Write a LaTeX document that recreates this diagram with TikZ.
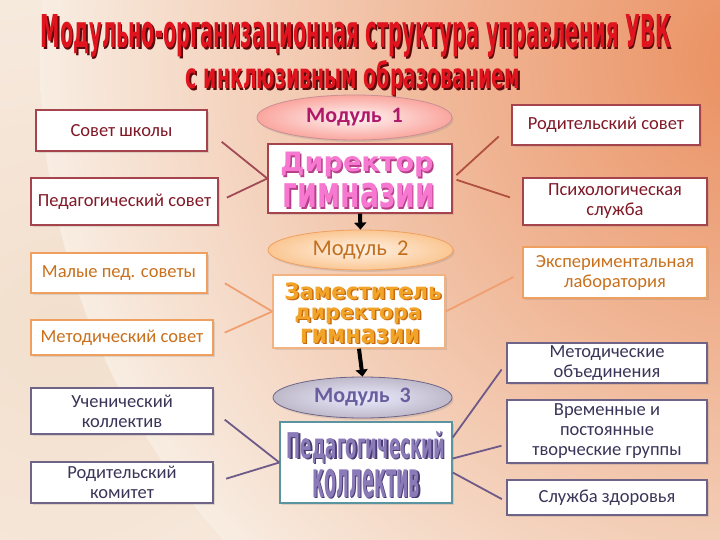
\documentclass[tikz,border=0pt]{standalone}
\usepackage{fontspec}
\setmainfont{Carlito}
\newfontfamily\heavyfont{DejaVu Sans}
\usetikzlibrary{shapes.geometric,arrows.meta,shadows}
\definecolor{bgbase}{HTML}{F8EDE2}
\definecolor{bgorange}{HTML}{EA8E5E}
\definecolor{bgpeach}{HTML}{F0D6C0}
\definecolor{redborder}{HTML}{A5444C}
\definecolor{redtext}{HTML}{801826}
\definecolor{orborder}{HTML}{EFA060}
\definecolor{ortext}{HTML}{C8701C}
\definecolor{puborder}{HTML}{6F6488}
\definecolor{putext}{HTML}{3A3558}
\definecolor{lred}{HTML}{A04A55}
\definecolor{rred}{HTML}{B05040}
\definecolor{lorange}{HTML}{F0A070}
\definecolor{lpurple}{HTML}{6E5A88}
\definecolor{titlered}{HTML}{E0141E}
\definecolor{titleshadow}{HTML}{5A0A0A}
\definecolor{dirpink}{HTML}{F678D0}
\definecolor{dirshadow}{HTML}{B8408A}
\definecolor{zamorange}{HTML}{F2A428}
\definecolor{zamshadow}{HTML}{C86A10}
\definecolor{pedpurple}{HTML}{8A7AB8}
\definecolor{pedshadow}{HTML}{4A3C72}
\definecolor{modonetext}{HTML}{B0186A}
\definecolor{modtwotext}{HTML}{C07020}
\definecolor{modthreetext}{HTML}{6A5E9E}
\newcommand\layered[3]{\rlap{\kern1.5pt\raisebox{-1.5pt}{\textcolor{#1}{#3}}}\textcolor{#2}{#3}}
\begin{document}
\begin{tikzpicture}[x=1pt,y=-1pt,
  box/.style={rectangle, draw, line width=1.4pt, fill=white, inner sep=0pt, align=center,
    font=\fontsize{18.5}{20}\selectfont,
    drop shadow={shadow xshift=1.5pt,shadow yshift=-2pt,opacity=0.22}},
  redbox/.style={box, draw=redborder, text=redtext},
  orbox/.style={box, draw=orborder, text=ortext},
  pubox/.style={box, draw=puborder, text=putext},
  modell/.style={ellipse, draw=#1, line width=0.8pt, inner sep=0pt,
    drop shadow={shadow xshift=1.5pt,shadow yshift=-2pt,opacity=0.22}},
  bigarrow/.style={line width=4pt, black, -{Triangle[width=12pt,length=7pt]}},
  conn/.style={line width=1.8pt},
  textnode/.style={inner sep=0pt, anchor=base}
]
% background
\fill[bgbase] (0,0) rectangle (720,540);
\begin{scope}
  \clip (0,0) rectangle (720,540);
  \shade[inner color=bgpeach, outer color=bgbase, opacity=0.6] (60,330) circle (420);
  \shade[inner color=bgorange, outer color=bgbase] (760,60) circle (720);
\end{scope}
\useasboundingbox (0,0) rectangle (720,540);

% title
\node[textnode] (title1) at (356,48) {\layered{titleshadow}{titlered}{\resizebox{630pt}{33pt}{\heavyfont\bfseries Модульно-организационная структура управления УВК}}};
\node[textnode] (title2) at (353,89) {\layered{titleshadow}{titlered}{\resizebox{334pt}{28pt}{\heavyfont\bfseries с инклюзивным образованием}}};

% left boxes
\node[redbox, minimum width=171pt, minimum height=41pt] (sovet) at (121.5,130.5) {Совет школы};
\node[redbox, minimum width=187pt, minimum height=47pt] (pedsovet) at (124.5,201.5) {Педагогический совет};
\node[orbox, minimum width=176pt, minimum height=40pt] (malye) at (119,273) {Малые пед. советы};
\node[orbox, minimum width=182pt, minimum height=35pt] (metsovet) at (122,337.5) {Методический совет};
\node[pubox, minimum width=182pt, minimum height=46pt] (uchen) at (122,411) {Ученический\\коллектив};
\node[pubox, minimum width=182pt, minimum height=41pt] (rodkom) at (122,482.5) {Родительский\\комитет};

% center modules
\node[modell=redborder!60, minimum width=195pt, minimum height=45pt, shade, inner color=white!85!pink, outer color=red!30!bgbase,
  text=modonetext, font=\bfseries\fontsize{22}{24}\selectfont] (mod1) at (354.5,117.5) {Модуль\ \ 1};
\node[redbox, draw=redborder, minimum width=184pt, minimum height=69pt] (dir) at (360,178.5) {};
\node[textnode] (dirt1) at (357,172) {\layered{dirshadow}{dirpink}{\resizebox*{153pt}{25pt}{\heavyfont\bfseries Директор}}};
\node[textnode] (dirt2) at (359,208) {\layered{dirshadow}{dirpink}{\resizebox*{152pt}{25pt}{\heavyfont\bfseries гимназии}}};

\node[modell=orborder, minimum width=185pt, minimum height=40pt, shade, inner color=white!90!orange, outer color=orange!35!bgbase,
  text=modtwotext, font=\fontsize{22.5}{24}\selectfont] (mod2) at (360.5,250) {Модуль\ \ 2};
\node[orbox, draw=orborder!80, minimum width=172pt, minimum height=73pt] (zam) at (359,311.5) {};
\node[textnode] (zamt1) at (363,299) {\layered{zamshadow}{zamorange}{\resizebox*{157pt}{17pt}{\heavyfont\bfseries Заместитель}}};
\node[textnode] (zamt2) at (358,319) {\layered{zamshadow}{zamorange}{\resizebox*{127pt}{16pt}{\heavyfont\bfseries директора}}};
\node[textnode] (zamt3) at (360,343) {\layered{zamshadow}{zamorange}{\resizebox*{120pt}{15pt}{\heavyfont\bfseries гимназии}}};

\node[modell=puborder, minimum width=179pt, minimum height=41pt, shade, inner color=white!92!blue, outer color=puborder!45!white,
  text=modthreetext, font=\bfseries\fontsize{22}{24}\selectfont] (mod3) at (362.5,397.5) {Модуль\ \ 3};
\node[pubox, draw=puborder!60!cyan!60!gray, minimum width=172pt, minimum height=81pt] (ped) at (366,462.5) {};
\node[textnode] (pedt1) at (366,458) {\layered{pedshadow}{pedpurple}{\resizebox*{158pt}{32pt}{\heavyfont\bfseries Педагогический}}};
\node[textnode] (pedt2) at (366,497) {\layered{pedshadow}{pedpurple}{\resizebox*{108pt}{29pt}{\heavyfont\bfseries коллектив}}};

% right boxes
\node[redbox, minimum width=188pt, minimum height=40pt] (rodsovet) at (606,125) {Родительский совет};
\node[redbox, minimum width=184pt, minimum height=47pt] (psych) at (615,201.5) {Психологическая\\служба};
\node[orbox, minimum width=184pt, minimum height=51pt] (exp) at (615,272.5) {Экспериментальная\\лаборатория};
\node[pubox, minimum width=200pt, minimum height=40pt] (mo) at (607,363) {Методические\\объединения};
\node[pubox, minimum width=200pt, minimum height=63pt] (vr) at (607,431.5) {Временные и\\постоянные\\творческие группы};
\node[pubox, minimum width=200pt, minimum height=35pt] (health) at (607,497.5) {Служба здоровья};

% arrows
\draw[bigarrow] (dir.south) -- (mod2.north);
\draw[bigarrow] (zam.south) -- (mod3.north);

% left connectors
\draw[conn, lred, shorten <=18pt] (sovet.east) -- (dir.west);
\draw[conn, lred, shorten <=9pt] (pedsovet.east) -- (dir.west);
\draw[conn, lorange, shorten <=20pt] (malye.east) -- (zam.west);
\draw[conn, lorange, shorten <=12pt] (metsovet.east) -- (zam.west);
\draw[conn, lpurple, shorten <=14pt] (uchen.east) -- (ped.west);
\draw[conn, lpurple, shorten <=13pt] (rodkom.east) -- (ped.west);

% right connectors
\draw[conn, rred, shorten <=5pt, shorten >=17pt] (dir.east) -- (rodsovet.west);
\draw[conn, rred, shorten <=4pt, shorten >=13pt] (dir.east) -- (psych.west);
\draw[conn, lorange, shorten >=10pt] (zam.east) -- (exp.west);
\draw[conn, lpurple, shorten >=8pt] ([yshift=25pt]ped.east) -- (mo.west);
\draw[conn, lpurple, shorten >=5pt] ([yshift=4pt]ped.east) -- ([yshift=-13pt]vr.west);
\draw[conn, lpurple, shorten >=5pt] ([yshift=-10pt]ped.east) -- ([yshift=-4pt]health.west);
\end{tikzpicture}
\end{document}
